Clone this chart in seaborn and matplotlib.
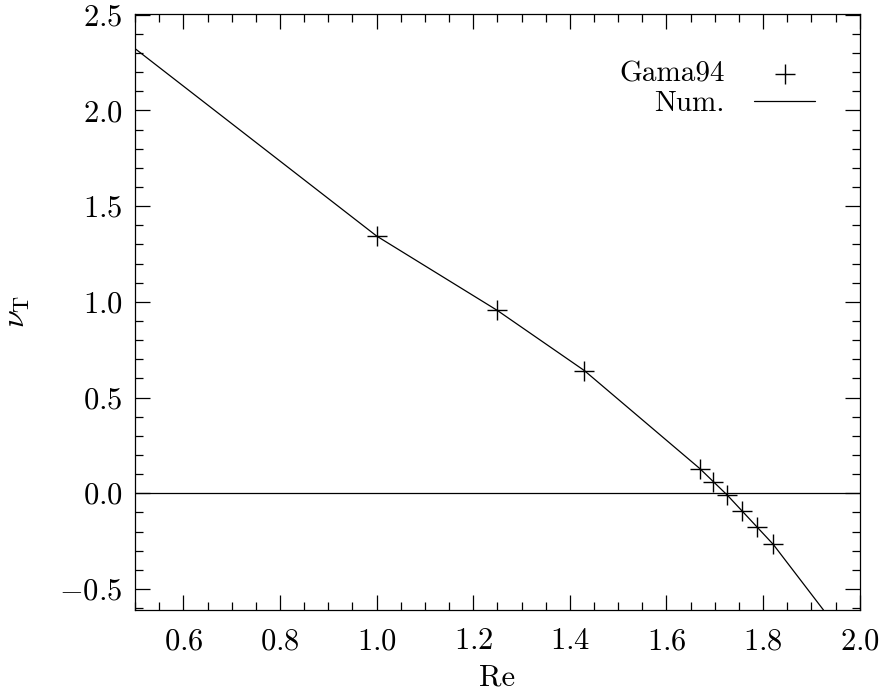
import numpy as np
import pandas as pd
import matplotlib
matplotlib.use("Agg")
import matplotlib.pyplot as plt
from matplotlib.ticker import MultipleLocator
import seaborn as sns

# Gama94 data points
gama_re = [1.0, 1.25, 1.43, 1.669, 1.697, 1.726, 1.757, 1.788, 1.821]
gama_nu = [1.344, 0.955, 0.641, 0.129, 0.059, -0.010, -0.092, -0.179, -0.267]

# numerical curve
num_re = [0.5, 1.0, 1.25, 1.43, 1.669, 1.726, 1.821, 1.925]
num_nu = [2.323, 1.344, 0.955, 0.641, 0.129, -0.010, -0.267, -0.61]

sns.set_theme(style="ticks")
plt.rcParams["font.family"] = ["cmr10", "DejaVu Serif"]
plt.rcParams["mathtext.fontset"] = "cm"
plt.rcParams["axes.formatter.use_mathtext"] = True
plt.rcParams["axes.unicode_minus"] = True
plt.rcParams["text.color"] = "black"
plt.rcParams["axes.labelcolor"] = "black"

fig = plt.figure(figsize=(8.89, 6.96), dpi=100)
ax = fig.add_axes([0.152, 0.1236, 0.815, 0.8565])

num_df = pd.DataFrame({"Re": num_re, "nu": num_nu})
gama_df = pd.DataFrame({"Re": gama_re, "nu": gama_nu})

sns.scatterplot(data=gama_df, x="Re", y="nu", marker="+", s=220, color="black",
                linewidth=1.0, label="Gama94", ax=ax, zorder=3)
sns.lineplot(data=num_df, x="Re", y="nu", color="black", linewidth=0.9,
             label="Num.", ax=ax)
ax.axhline(0.0, color="black", linewidth=0.9)

ax.set_xlim(0.5, 2.0)
ax.set_ylim(-0.61, 2.505)
ax.xaxis.set_major_locator(MultipleLocator(0.2))
ax.xaxis.set_minor_locator(MultipleLocator(0.05))
ax.yaxis.set_major_locator(MultipleLocator(0.5))
ax.yaxis.set_minor_locator(MultipleLocator(0.1))
ax.tick_params(which="both", direction="in", top=True, right=True,
               colors="black", width=0.9)
ax.tick_params(which="major", length=11, labelsize=22)
ax.tick_params(which="minor", length=6)
ax.tick_params(axis="x", which="major", pad=13)
ax.tick_params(axis="y", which="major", pad=9)
for sp in ax.spines.values():
    sp.set_visible(True)
    sp.set_color("black")
    sp.set_linewidth(0.9)

ax.set_xlabel("Re", fontsize=22, labelpad=6, color="black")
ax.set_ylabel(r"$\nu_\mathrm{T}$", fontsize=23, labelpad=20, color="black")

leg = ax.legend(loc="upper right", bbox_to_anchor=(0.975, 0.965), frameon=False,
                markerfirst=False, fontsize=21, handlelength=2.1,
                labelspacing=0.1, handletextpad=1.0)
for t in leg.get_texts():
    t.set_ha("right")

fig.savefig("out.png", dpi=100)
